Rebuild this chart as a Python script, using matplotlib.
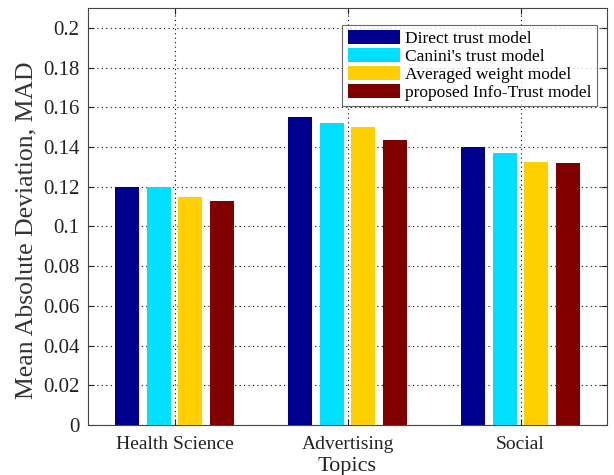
import numpy as np
import matplotlib
matplotlib.use("Agg")
import matplotlib.pyplot as plt

# MAD per topic for each trust model
topics = ["Health Science", "Advertising", "Social"]
models = ["Direct trust model", "Canini's trust model",
          "Averaged weight model", "proposed Info-Trust model"]
direct = [0.120, 0.155, 0.140]
canini = [0.120, 0.152, 0.137]
averaged = [0.115, 0.150, 0.1325]
infotrust = [0.113, 0.1435, 0.132]
couleurs = ["#00008F", "#00DFFF", "#FFCF00", "#800000"]

plt.rcParams["font.family"] = ["Liberation Serif", "DejaVu Serif"]

fig = plt.figure(figsize=(6.14, 4.75), dpi=100)
ax = fig.add_axes([88/614, 50/475, 519/614, 417/475])

x = np.arange(1, len(topics) + 1)
pas = 0.183
larg = 0.137
series = [direct, canini, averaged, infotrust]
for i, (vals, nom, c) in enumerate(zip(series, models, couleurs)):
    ax.bar(x + (i - 1.5) * pas, vals, width=larg, color=c, label=nom,
           edgecolor="none", zorder=3)

ax.set_xlim(0.5, 3.5)
ax.set_ylim(0, 0.21)
ax.set_xticks(x)
ax.set_xticklabels(topics, fontsize=14)
yt = np.arange(0, 0.201, 0.02)
ax.set_yticks(yt)
ax.set_yticklabels(["0" if v == 0 else f"{v:.2f}".rstrip("0") for v in yt], fontsize=15)
ax.tick_params(direction="in", length=4, top=True, right=True, colors="#222222",
               labelcolor="#222222")
ax.tick_params(axis="x", pad=8)
ax.tick_params(axis="y", pad=6)
ax.grid(True, linestyle=(0, (1, 3)), color="black", linewidth=0.8, zorder=0)
for s in ax.spines.values():
    s.set_color("#444444")
    s.set_linewidth(0.8)

ax.set_xlabel("Topics", fontsize=16, color="#222222", labelpad=3)
ax.set_ylabel("Mean Absolute Deviation, MAD", fontsize=18.5, color="#333333")
ax.yaxis.set_label_coords(-0.098, 0.468)

leg = ax.legend(loc="upper right", bbox_to_anchor=(0.98, 0.96), fontsize=12.5,
                frameon=True, fancybox=False, edgecolor="#444444",
                handlelength=3.0, handleheight=0.9, handletextpad=0.3,
                borderpad=0.3, labelspacing=0.05, borderaxespad=0)
leg.get_frame().set_linewidth(0.8)

fig.savefig("out.png", dpi=100)
